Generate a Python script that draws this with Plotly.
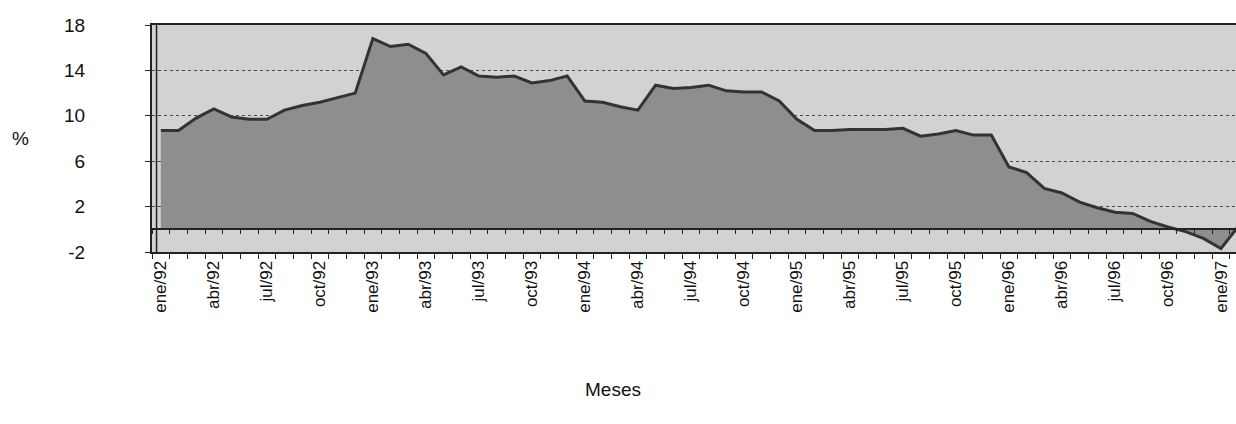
import plotly.graph_objects as go

# Monthly series, Jan 1992 - Feb 1997 (percent)
meses = [
    "ene/92", "feb/92", "mar/92", "abr/92", "may/92", "jun/92", "jul/92", "ago/92", "sep/92", "oct/92", "nov/92", "dic/92",
    "ene/93", "feb/93", "mar/93", "abr/93", "may/93", "jun/93", "jul/93", "ago/93", "sep/93", "oct/93", "nov/93", "dic/93",
    "ene/94", "feb/94", "mar/94", "abr/94", "may/94", "jun/94", "jul/94", "ago/94", "sep/94", "oct/94", "nov/94", "dic/94",
    "ene/95", "feb/95", "mar/95", "abr/95", "may/95", "jun/95", "jul/95", "ago/95", "sep/95", "oct/95", "nov/95", "dic/95",
    "ene/96", "feb/96", "mar/96", "abr/96", "may/96", "jun/96", "jul/96", "ago/96", "sep/96", "oct/96", "nov/96", "dic/96",
    "ene/97", "feb/97",
]
valores = [
    8.7, 8.7, 9.8, 10.6, 9.9, 9.7, 9.7, 10.5, 10.9, 11.2, 11.6, 12.0,
    16.8, 16.1, 16.3, 15.5, 13.6, 14.3, 13.5, 13.4, 13.5, 12.9, 13.1, 13.5,
    11.3, 11.2, 10.8, 10.5, 12.7, 12.4, 12.5, 12.7, 12.2, 12.1, 12.1, 11.3,
    9.7, 8.7, 8.7, 8.8, 8.8, 8.8, 8.9, 8.2, 8.4, 8.7, 8.3, 8.3,
    5.5, 5.0, 3.6, 3.2, 2.4, 1.9, 1.5, 1.4, 0.7, 0.2, -0.2, -0.8,
    -1.7, 0.3,
]
y_ticks = [-2, 2, 6, 10, 14, 18]
y_tick_text = ["-2", "2", "6", "10", "14", "18"]

FONT = "Liberation Sans, Arial, sans-serif"
idx = list(range(len(meses)))
tick_idx = idx[::3]
tick_txt = meses[::3]
x_range = [-0.5, 60.85]

fig = go.Figure()
fig.add_trace(go.Scatter(
    x=idx, y=valores, mode="lines",
    fill="tozeroy", fillcolor="#8e8e8e",
    line=dict(color="#333333", width=3),
    hoverinfo="skip", showlegend=False,
))
# category axis drawn along the zero line
fig.add_trace(go.Scatter(x=[idx[0]], y=[None], xaxis="x2", showlegend=False, hoverinfo="skip"))

fig.update_layout(
    width=1236, height=424,
    margin=dict(l=152, r=0, t=25, b=172),
    paper_bgcolor="white",
    plot_bgcolor="#d2d2d2",
    font=dict(family=FONT, color="#111111"),
    xaxis=dict(
        range=x_range, tickmode="array", tickvals=tick_idx, ticktext=tick_txt,
        tickangle=-90, tickfont=dict(size=17, family=FONT),
        ticks="", showgrid=False, zeroline=False,
        showline=True, linecolor="#222222", linewidth=2, mirror=True,
        minor=dict(tick0=-0.5, dtick=1, ticks="outside", ticklen=5,
                   tickcolor="#222222", showgrid=False),
    ),
    xaxis2=dict(
        range=x_range, overlaying="x", anchor="free", position=0.1,
        showticklabels=False, ticks="", showgrid=False, zeroline=False,
        showline=True, linecolor="#222222", linewidth=2,
        minor=dict(tick0=-0.5, dtick=1, ticks="outside", ticklen=4,
                   tickcolor="#222222", showgrid=False),
    ),
    yaxis=dict(
        range=[-2, 18], tickmode="array", tickvals=y_ticks, ticktext=y_tick_text,
        tickfont=dict(size=19, family=FONT),
        ticks="outside", ticklen=5, tickcolor="#222222",
        ticklabelstandoff=56,
        showgrid=True, gridcolor="#4a4a4a", griddash="dot", gridwidth=1,
        zeroline=False, showline=True, linecolor="#222222", linewidth=2,
    ),
    shapes=[
        dict(type="line", xref="paper", yref="paper", x0=0.0042, x1=0.0042,
             y0=0, y1=1, line=dict(color="#222222", width=1.5)),
    ],
    annotations=[
        dict(text="%", xref="paper", yref="paper", x=-0.131, y=0.5,
             showarrow=False, font=dict(size=19, family=FONT)),
        dict(text="Meses", xref="paper", yref="paper", x=0.425, y=-0.66,
             showarrow=False, font=dict(size=19, family=FONT)),
    ],
)

fig.write_html("out.html")
